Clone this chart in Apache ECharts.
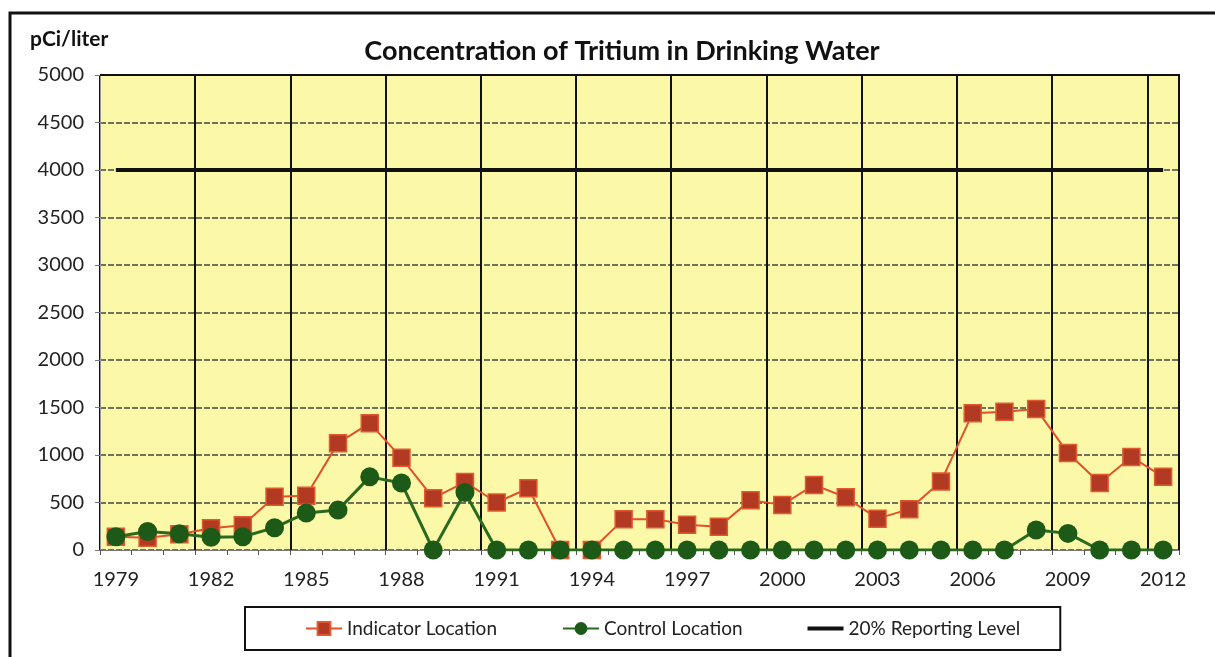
<!DOCTYPE html>
<html>
<head>
<meta charset="utf-8">
<script src="https://cdn.jsdelivr.net/npm/echarts@6/dist/echarts.min.js"></script>
<style>html,body{margin:0;padding:0;background:#fff;}#c{width:1215px;height:657px;}</style>
</head>
<body>
<div id="c"></div>
<script>
const years = ['1979','1980','1981','1982','1983','1984','1985','1986','1987','1988','1989','1990','1991','1992','1993','1994','1995','1996','1997','1998','1999','2000','2001','2002','2003','2004','2005','2006','2007','2008','2009','2010','2011','2012'];
const indicator = [140,130,165,230,260,560,570,1125,1335,970,545,715,500,650,0,0,325,325,265,245,525,475,685,555,330,430,720,1440,1455,1485,1020,705,980,770];
const control = [140,195,170,135,140,235,390,420,770,705,0,605,0,0,0,0,0,0,0,0,0,0,0,0,0,0,0,0,0,210,175,0,0,0];
const reporting = years.map(() => 4000);
const yTicks = [0,500,1000,1500,2000,2500,3000,3500,4000,4500,5000];

const chart = echarts.init(document.getElementById('c'));
const font = 'Lato, "Open Sans", sans-serif';
chart.setOption({
  animation: false,
  backgroundColor: '#ffffff',
  graphic: [
    { type: 'rect', shape: { x: 10, y: 13, width: 1230, height: 700 }, style: { fill: 'none', stroke: '#111', lineWidth: 3 }, z: 100 },
    { type: 'polyline', shape: { points: [[100, 75], [1179, 75], [1179, 550]] }, style: { stroke: '#111', lineWidth: 2, fill: 'none' }, z: 50 },
    { type: 'text', left: 30, top: 29, style: { text: 'pCi/liter', font: 'bold 21px Lato, "Open Sans", sans-serif', fill: '#111' }, z: 50 }
  ],
  title: {
    text: 'Concentration of Tritium in Drinking Water',
    left: 617, top: 33, textAlign: 'center',
    textStyle: { fontFamily: font, fontSize: 27, fontWeight: 'bold', color: '#111' }
  },
  legend: {
    left: 245, top: 607, width: 825, height: 45,
    orient: 'horizontal',
    borderColor: '#111', borderWidth: 2,
    padding: [12, 40, 12, 60],
    itemGap: 65, itemWidth: 36, itemHeight: 16,
    textStyle: { fontFamily: font, fontSize: 19, color: '#222' },
    data: [
      { name: 'Indicator Location' },
      { name: 'Control Location' },
      { name: '20% Reporting Level', icon: 'path://M0,0 L36,0 L36,4 L0,4 Z', itemStyle: { color: '#111' } }
    ]
  },
  grid: { left: 100, right: 36, top: 75, bottom: 107, containLabel: false,
    show: true, backgroundColor: '#fbf9a8', borderWidth: 0 },
  xAxis: {
    type: 'category', data: years, boundaryGap: true,
    axisLine: { lineStyle: { color: '#777', width: 1 } },
    axisTick: { show: true, interval: 0, length: 5, lineStyle: { color: '#555' } },
    axisLabel: { interval: 2, fontFamily: font, fontSize: 20, color: '#222', margin: 20 },
    splitLine: { show: true, interval: 2, lineStyle: { color: '#111', width: 2 } }
  },
  yAxis: {
    type: 'value', min: yTicks[0], max: yTicks[yTicks.length - 1], interval: 500,
    axisLine: { show: true, lineStyle: { color: '#999', width: 1 } },
    axisTick: { show: true, length: 5, lineStyle: { color: '#777' } },
    axisLabel: { fontFamily: font, fontSize: 20, color: '#222', margin: 16, formatter: v => String(v) },
    splitLine: { show: true, lineStyle: { color: '#444', width: 1.5, type: [6, 2] } }
  },
  series: [
    {
      name: '20% Reporting Level', type: 'line', data: reporting,
      symbol: 'none', lineStyle: { color: '#111', width: 4 }, itemStyle: { color: '#111' }, z: 3
    },
    {
      name: 'Indicator Location', type: 'line', data: indicator,
      symbol: 'rect', symbolSize: 17,
      lineStyle: { color: '#e0502a', width: 2 },
      itemStyle: { color: '#b33a22', borderColor: '#e05a30', borderWidth: 1.5 }, z: 4
    },
    {
      name: 'Control Location', type: 'line', data: control,
      symbol: 'circle', symbolSize: 19,
      lineStyle: { color: '#2a6a1e', width: 3 },
      itemStyle: { color: '#1d5a18', borderColor: '#1d5a18', borderWidth: 0 }, z: 5
    }
  ]
});
</script>
</body>
</html>
